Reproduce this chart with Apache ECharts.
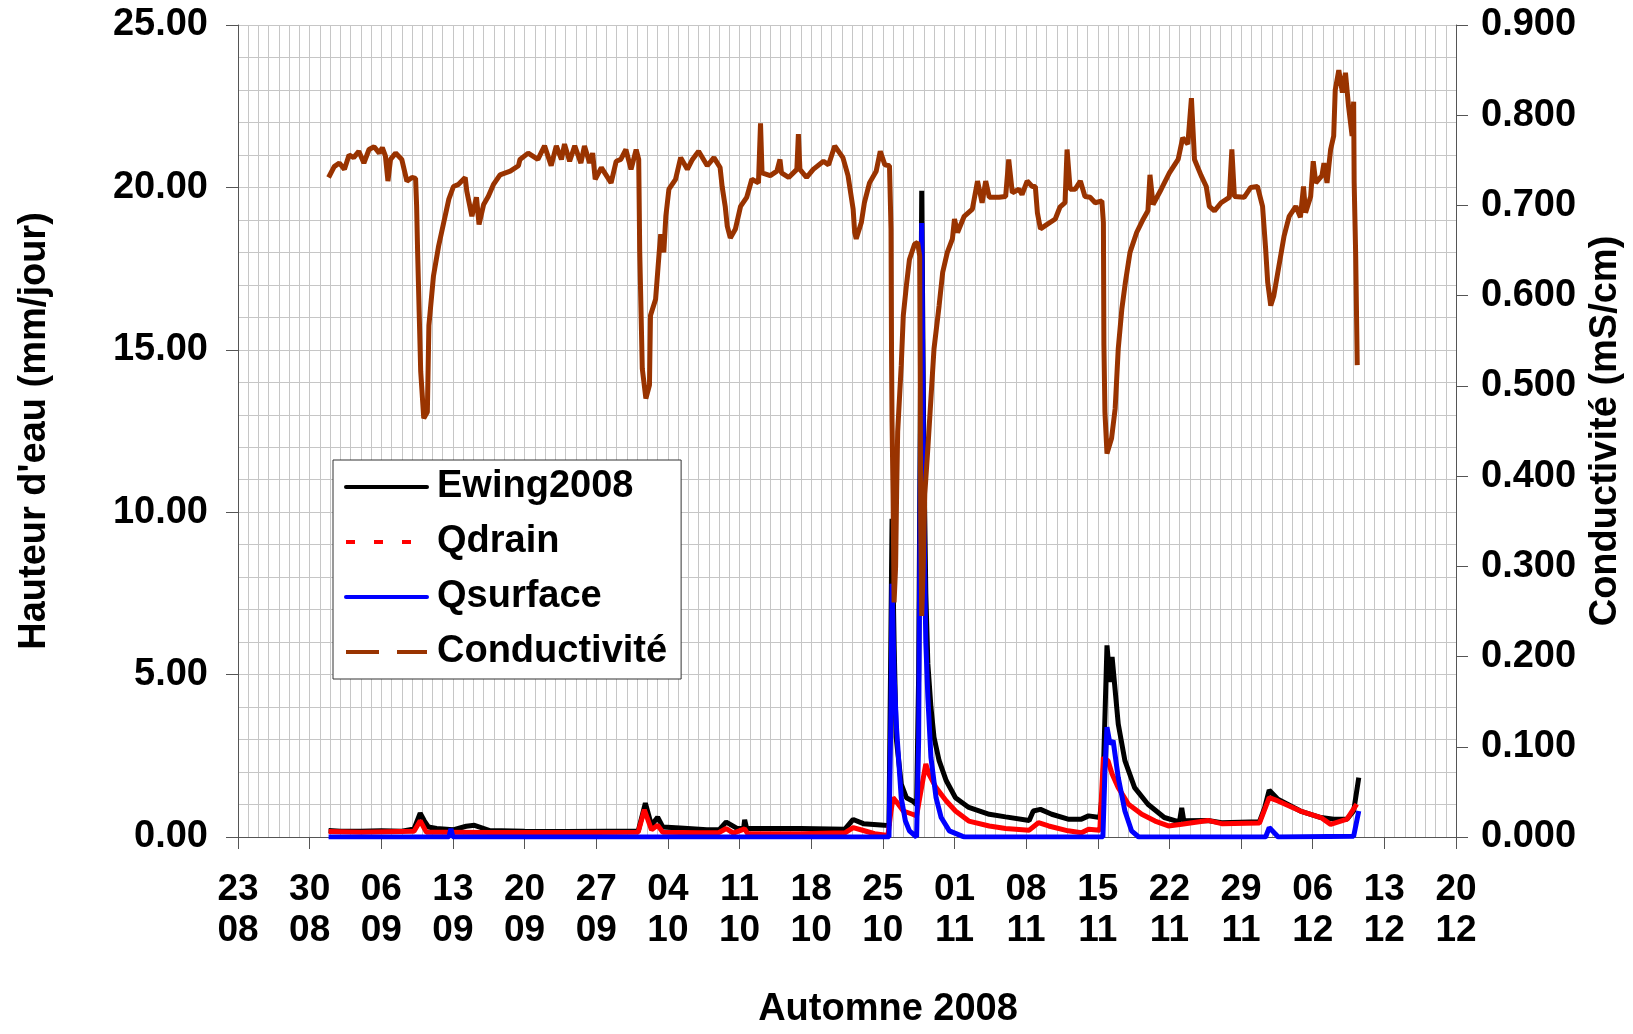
<!DOCTYPE html>
<html style="height: 100%">
<head>
  <meta charset="utf-8">
  <title>Automne 2008 - Hauteur d'eau et conductivité</title>
  <script src="https://cdn.jsdelivr.net/npm/echarts@6/dist/echarts.min.js"></script>
</head>
<body style="margin: 0; height: 100%; background: #fff">
  <div id="main" style="width: 1633px; height: 1034px"></div>
  <script>
    // jours comptés depuis le 23/08/2008
    const ewingJours = [8.85, 10, 12, 14, 16, 17.2, 17.8, 18.2, 18.6, 19.4, 21, 22.3, 23.1, 24.6, 28, 32, 36, 39.1, 39.8, 40.4, 41.0, 41.5, 43.2, 45.8, 47.0, 47.7, 48.8, 49.4, 49.5, 49.7, 52, 55, 59.3, 60.1, 61.1, 62.8, 63.6, 63.75, 63.9, 64.1, 64.3, 64.8, 65.3, 65.9, 66.3, 66.5, 66.8, 67.0, 67.2, 67.4, 67.7, 68.0, 68.5, 69.2, 70.1, 71.4, 73.4, 75.0, 77.3, 77.7, 78.4, 79.5, 81.1, 82.4, 83.1, 84.2, 84.5, 84.9, 85.2, 85.4, 86.0, 86.65, 87.6, 88.9, 90.5, 91.7, 92.0, 92.2, 92.4, 94.75, 96.1, 99.8, 100.3, 100.75, 101.6, 103.8, 105.8, 107.05, 108.35, 109.0, 109.5];
    const ewingVals = [0.20, 0.18, 0.18, 0.19, 0.18, 0.25, 0.73, 0.50, 0.31, 0.26, 0.22, 0.33, 0.36, 0.20, 0.18, 0.17, 0.18, 0.18, 1.04, 0.36, 0.61, 0.31, 0.28, 0.22, 0.22, 0.46, 0.26, 0.26, 0.53, 0.26, 0.26, 0.26, 0.24, 0.54, 0.41, 0.37, 0.35, 5.0, 9.8, 6.0, 3.07, 1.63, 1.21, 1.11, 1.00, 5.0, 19.9, 12.0, 7.5, 5.33, 4.0, 3.07, 2.35, 1.73, 1.21, 0.91, 0.70, 0.62, 0.51, 0.80, 0.85, 0.70, 0.55, 0.55, 0.65, 0.60, 1.5, 5.9, 4.77, 5.54, 3.48, 2.35, 1.52, 1.01, 0.60, 0.49, 0.50, 0.90, 0.50, 0.51, 0.44, 0.47, 0.90, 1.44, 1.16, 0.80, 0.60, 0.55, 0.55, 0.80, 1.83];

    const drainJours = [8.85, 12, 17.2, 17.8, 18.4, 20, 25, 30, 35, 39.1, 39.7, 40.4, 41.0, 41.5, 45, 47.0, 47.7, 48.4, 49.5, 49.8, 55, 59.3, 60.1, 61.1, 62.2, 63.5, 63.8, 64.0, 64.3, 65.0, 65.9, 66.3, 66.6, 67.2, 67.5, 68.2, 69.2, 70.1, 71.4, 73.4, 75.0, 77.3, 78.2, 79.2, 81.1, 82.4, 83.1, 84.2, 84.55, 85.0, 85.4, 86.0, 87.0, 88.3, 89.6, 90.9, 92.2, 94.75, 96.1, 99.8, 100.75, 101.6, 103.8, 105.8, 106.75, 108.35, 109.3];
    const drainVals = [0.17, 0.15, 0.18, 0.50, 0.15, 0.15, 0.14, 0.14, 0.14, 0.15, 0.84, 0.22, 0.36, 0.15, 0.13, 0.14, 0.26, 0.12, 0.25, 0.10, 0.10, 0.13, 0.29, 0.20, 0.10, 0.05, 0.80, 1.21, 1.10, 0.80, 0.70, 0.65, 1.20, 2.25, 1.94, 1.52, 1.11, 0.80, 0.49, 0.34, 0.26, 0.21, 0.44, 0.34, 0.19, 0.13, 0.24, 0.21, 2.45, 2.35, 1.94, 1.52, 1.01, 0.70, 0.49, 0.34, 0.39, 0.51, 0.41, 0.43, 1.21, 1.11, 0.80, 0.60, 0.39, 0.55, 1.01];

    const surfJours = [8.85, 20.6, 20.8, 21.0, 63.6, 63.8, 63.9, 64.1, 64.35, 64.8, 65.2, 65.6, 66.3, 66.5, 66.8, 67.0, 67.2, 67.4, 67.7, 68.2, 68.7, 69.5, 70.8, 71, 84.5, 84.7, 84.9, 85.2, 85.5, 86.0, 86.65, 87.3, 88.0, 100.4, 100.75, 101.4, 101.6, 109.0, 109.5];
    const surfVals = [0, 0, 0.25, 0, 0, 4.0, 7.8, 5.0, 3.3, 1.2, 0.5, 0.19, 0, 3.0, 18.9, 10.0, 6.0, 4.3, 2.45, 1.21, 0.6, 0.19, 0.02, 0, 0, 2.0, 3.38, 2.86, 2.97, 1.83, 0.8, 0.19, 0, 0, 0.29, 0.08, 0, 0.02, 0.8];

    const condJours = [8.85, 9.4, 9.9, 10.4, 10.85, 11.3, 11.8, 12.3, 12.8, 13.3, 13.8, 14.1, 14.4, 14.65, 14.9, 15.4, 16.0, 16.5, 17.0, 17.35, 17.45, 17.55, 17.7, 17.85, 18.15, 18.5, 18.65, 19.1, 19.6, 20.1, 20.6, 21.05, 21.5, 22.2, 22.35, 22.85, 23.3, 23.55, 24.0, 24.45, 24.95, 25.6, 26.6, 27.4, 27.55, 28.35, 29.3, 29.95, 30.6, 31.1, 31.6, 31.9, 32.4, 32.9, 33.5, 33.85, 34.35, 34.65, 34.9, 35.5, 36.45, 36.95, 37.4, 37.9, 38.4, 38.9, 39.15, 39.25, 39.5, 39.85, 40.2, 40.3, 40.8, 41.15, 41.3, 41.6, 41.8, 42.1, 42.75, 43.25, 43.9, 44.4, 45.0, 45.85, 46.5, 47.1, 47.3, 47.6, 47.8, 48.1, 48.6, 49.1, 49.7, 50.2, 50.85, 51.05, 51.2, 52.0, 52.65, 52.95, 53.1, 53.8, 54.6, 54.75, 54.9, 55.55, 56.2, 57.2, 57.7, 58.3, 59.1, 59.6, 60.1, 60.25, 60.4, 60.9, 61.2, 61.7, 62.35, 62.75, 63.2, 63.65, 63.8, 63.85, 63.9, 64.0, 64.1, 64.25, 64.35, 64.45, 64.8, 65.0, 65.3, 65.6, 66.1, 66.4, 66.6, 66.65, 66.7, 66.8, 66.95, 67.1, 67.4, 67.7, 68.0, 68.5, 68.85, 69.3, 69.8, 70.0, 70.3, 70.95, 71.75, 72.25, 72.7, 73.05, 73.4, 74.35, 75.0, 75.3, 75.65, 76.3, 76.6, 77.1, 77.6, 77.9, 78.1, 78.4, 79.05, 79.85, 80.3, 80.8, 81.0, 81.3, 81.8, 82.3, 82.75, 83.25, 83.75, 84.4, 84.55, 84.6, 84.7, 84.9, 85.35, 85.7, 86.0, 86.35, 86.7, 87.15, 87.8, 88.45, 88.9, 89.1, 89.4, 90.2, 91.0, 91.85, 92.3, 92.8, 93.15, 93.45, 94.1, 94.6, 94.9, 95.4, 96.05, 96.85, 97.1, 97.35, 98.3, 98.95, 99.6, 100.1, 100.4, 100.6, 100.9, 101.2, 101.7, 102.2, 102.7, 103.35, 103.8, 104.1, 104.3, 104.8, 105.05, 105.3, 105.9, 106.1, 106.4, 106.75, 107.05, 107.2, 107.55, 107.9, 108.2, 108.5, 108.85, 109.0, 109.05, 109.2, 109.35];
    const condVals = [0.731, 0.743, 0.747, 0.740, 0.756, 0.753, 0.760, 0.747, 0.762, 0.765, 0.758, 0.764, 0.755, 0.727, 0.751, 0.758, 0.751, 0.727, 0.731, 0.730, 0.700, 0.648, 0.582, 0.516, 0.464, 0.471, 0.567, 0.622, 0.655, 0.681, 0.707, 0.721, 0.723, 0.731, 0.716, 0.688, 0.709, 0.679, 0.701, 0.710, 0.723, 0.734, 0.738, 0.744, 0.751, 0.758, 0.751, 0.766, 0.744, 0.766, 0.751, 0.768, 0.749, 0.766, 0.747, 0.766, 0.747, 0.758, 0.729, 0.742, 0.725, 0.749, 0.751, 0.762, 0.740, 0.762, 0.751, 0.648, 0.519, 0.486, 0.501, 0.578, 0.596, 0.648, 0.668, 0.648, 0.688, 0.718, 0.729, 0.753, 0.740, 0.751, 0.760, 0.744, 0.753, 0.742, 0.721, 0.699, 0.677, 0.664, 0.674, 0.699, 0.709, 0.729, 0.725, 0.791, 0.736, 0.733, 0.738, 0.751, 0.736, 0.731, 0.740, 0.779, 0.740, 0.731, 0.740, 0.749, 0.745, 0.766, 0.753, 0.733, 0.696, 0.670, 0.663, 0.681, 0.703, 0.725, 0.738, 0.760, 0.745, 0.744, 0.674, 0.537, 0.460, 0.380, 0.260, 0.300, 0.383, 0.449, 0.523, 0.578, 0.611, 0.640, 0.657, 0.659, 0.644, 0.523, 0.350, 0.245, 0.300, 0.380, 0.431, 0.486, 0.541, 0.589, 0.626, 0.648, 0.663, 0.685, 0.670, 0.688, 0.696, 0.727, 0.703, 0.727, 0.709, 0.709, 0.710, 0.751, 0.714, 0.718, 0.712, 0.727, 0.721, 0.721, 0.692, 0.674, 0.679, 0.685, 0.698, 0.703, 0.762, 0.718, 0.718, 0.727, 0.710, 0.709, 0.703, 0.705, 0.681, 0.545, 0.471, 0.425, 0.442, 0.475, 0.541, 0.585, 0.615, 0.648, 0.670, 0.685, 0.694, 0.734, 0.701, 0.718, 0.736, 0.751, 0.775, 0.768, 0.819, 0.751, 0.733, 0.721, 0.699, 0.694, 0.703, 0.709, 0.762, 0.710, 0.709, 0.720, 0.721, 0.699, 0.652, 0.615, 0.589, 0.600, 0.633, 0.666, 0.688, 0.699, 0.687, 0.721, 0.692, 0.710, 0.749, 0.725, 0.733, 0.747, 0.725, 0.762, 0.777, 0.828, 0.850, 0.825, 0.847, 0.810, 0.777, 0.815, 0.725, 0.644, 0.523];

    const zip = (a, b) => a.map((x, i) => [x, b[i]]);
    const police = "'Liberation Sans', Arial, sans-serif";
    const gris = '#c6c6c6';
    const axeCouleur = '#555';

    function dateLabel(d) {
      const dt = new Date(2008, 7, 23 + d);
      return String(dt.getDate()).padStart(2, '0') + '\n' + String(dt.getMonth() + 1).padStart(2, '0');
    }

    const chart = echarts.init(document.getElementById('main'));

    chart.setOption({
      animation: false,
      backgroundColor: '#fff',
      grid: { left: 238, right: 171, top: 25, bottom: 194 },
      legend: {
        orient: 'vertical',
        left: 333,
        top: 460,
        backgroundColor: '#fff',
        borderColor: '#333',
        borderWidth: 1,
        padding: [5, 14, 5, 11],
        itemWidth: 81,
        itemHeight: 14,
        itemGap: 11,
        selectedMode: false,
        itemStyle: { opacity: 0 },
        textStyle: { fontFamily: police, fontWeight: 'bold', fontSize: 38, lineHeight: 44, color: '#000', padding: [0, 0, 0, 5] },
        data: [
          { name: 'Ewing2008', lineStyle: { width: 4, cap: 'round' } },
          { name: 'Qdrain', lineStyle: { width: 4, type: [9, 19], cap: 'butt' } },
          { name: 'Qsurface', lineStyle: { width: 4, cap: 'round' } },
          { name: 'Conductivité', lineStyle: { width: 4, type: [33, 18], cap: 'butt' } }
        ]
      },
      xAxis: {
        type: 'value',
        min: 0,
        max: 119,
        interval: 7,
        name: 'Automne 2008',
        nameLocation: 'middle',
        nameGap: 154,
        nameTextStyle: { fontFamily: police, fontWeight: 'bold', fontSize: 38, color: '#000', padding: [0, 0, 0, 82] },
        axisLine: { onZero: false, lineStyle: { color: axeCouleur, width: 1 } },
        axisTick: { show: true, length: 12, lineStyle: { color: axeCouleur } },
        axisLabel: { formatter: dateLabel, margin: 32, fontFamily: police, fontWeight: 'bold', fontSize: 37, lineHeight: 41, color: '#000' },
        splitLine: { show: true, lineStyle: { color: gris, width: 1 } },
        minorTick: { show: false, splitNumber: 7 },
        minorSplitLine: { show: true, lineStyle: { color: gris, width: 1 } }
      },
      yAxis: [
        {
          type: 'value',
          min: 0,
          max: 25,
          interval: 5,
          name: "Hauteur d'eau (mm/jour)",
          nameLocation: 'middle',
          nameRotate: 90,
          nameGap: 184,
          nameTextStyle: { fontFamily: police, fontWeight: 'bold', fontSize: 38, color: '#000' },
          axisLine: { show: true, lineStyle: { color: axeCouleur, width: 1 } },
          axisTick: { show: true, length: 12, lineStyle: { color: axeCouleur } },
          axisLabel: { formatter: v => v.toFixed(2), margin: 30, fontFamily: police, fontWeight: 'bold', fontSize: 38, color: '#000' },
          splitLine: { show: true, lineStyle: { color: gris, width: 1 } },
          minorTick: { show: false, splitNumber: 5 },
          minorSplitLine: { show: true, lineStyle: { color: gris, width: 1 } }
        },
        {
          type: 'value',
          min: 0,
          max: 0.9,
          interval: 0.1,
          position: 'right',
          name: 'Conductivité (mS/cm)',
          nameLocation: 'middle',
          nameRotate: 90,
          nameGap: 120,
          nameTextStyle: { fontFamily: police, fontWeight: 'bold', fontSize: 38, color: '#000' },
          axisLine: { show: true, lineStyle: { color: axeCouleur, width: 1 } },
          axisTick: { show: true, length: 12, lineStyle: { color: axeCouleur } },
          axisLabel: { formatter: v => v.toFixed(3), margin: 25, fontFamily: police, fontWeight: 'bold', fontSize: 38, color: '#000' },
          splitLine: { show: false }
        }
      ],
      series: [
        {
          name: 'Ewing2008', type: 'line', symbol: 'none', showSymbol: false, yAxisIndex: 0,
          color: '#000000', lineStyle: { width: 5, color: '#000000' },
          data: zip(ewingJours, ewingVals)
        },
        {
          name: 'Qdrain', type: 'line', symbol: 'none', showSymbol: false, yAxisIndex: 0,
          color: '#ff0000', lineStyle: { width: 5, color: '#ff0000' },
          data: zip(drainJours, drainVals)
        },
        {
          name: 'Qsurface', type: 'line', symbol: 'none', showSymbol: false, yAxisIndex: 0,
          color: '#0000ff', lineStyle: { width: 5, color: '#0000ff' },
          data: zip(surfJours, surfVals)
        },
        {
          name: 'Conductivité', type: 'line', symbol: 'none', showSymbol: false, yAxisIndex: 1,
          color: '#993300', lineStyle: { width: 5, color: '#993300' },
          data: zip(condJours, condVals)
        }
      ]
    });
  </script>
</body>
</html>
